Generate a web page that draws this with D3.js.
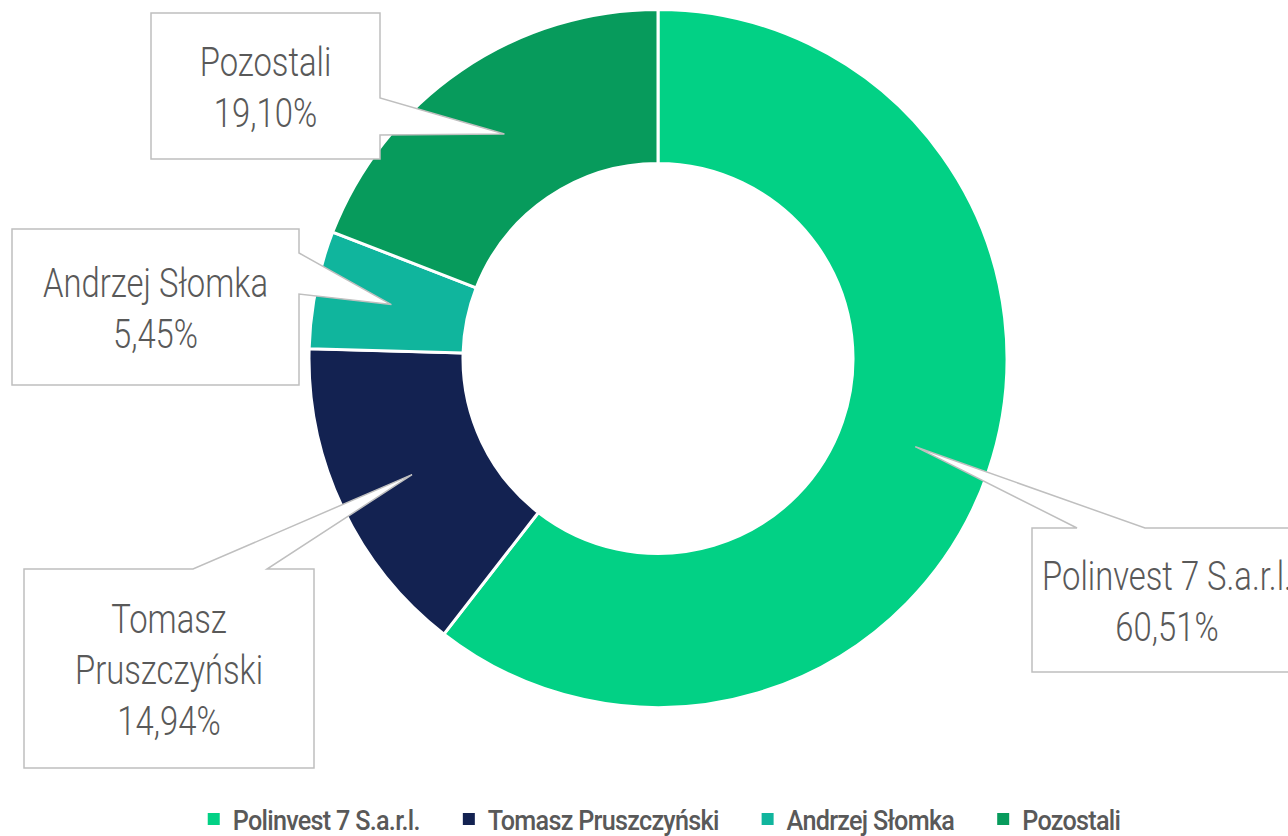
<!DOCTYPE html>
<html>
<head>
<meta charset="utf-8">
<script src="https://cdn.jsdelivr.net/npm/d3@7/dist/d3.min.js"></script>
<style>
  html, body { margin: 0; padding: 0; background: #fff; }
  svg { display: block; }
  text { font-family: Roboto, "Liberation Sans", sans-serif; }
</style>
</head>
<body>
<div id="main"></div>
<script>
// dane wykresu
const categories = ["Polinvest 7 S.a.r.l.", "Tomasz Pruszczyński", "Andrzej Słomka", "Pozostali"];
const shares = [60.51, 14.94, 5.45, 19.10];
const shareLabels = ["60,51%", "14,94%", "5,45%", "19,10%"];
const colors = ["#02D185", "#132251", "#10B59D", "#079B5C"];

const ctx = {
  W: 1288,
  H: 836,
  cx: 658,
  cy: 358.5,
  outerR: 349,
  innerR: 195,
  lineH: 51,
  labelSqueeze: 0.8,   // font is condensed in the original
  legendSqueeze: 0.9,
};

// ramki etykiet (położenie na rysunku)
const callouts = [
  { x: 1032, y: 528, w: 270, h: 144, side: "top",   a: 1077, b: 1145, wrap: false },
  { x: 24,   y: 569, w: 290, h: 199, side: "top",   a: 193,  b: 267,  wrap: true },
  { x: 12,   y: 229, w: 287, h: 156, side: "right", a: 253,  b: 294,  wrap: false },
  { x: 151,  y: 13,  w: 229, h: 146, side: "right", a: 98,   b: 135,  wrap: false },
];

function calloutPath(c, tip) {
  const x0 = c.x, y0 = c.y, x1 = c.x + c.w, y1 = c.y + c.h;
  let pts;
  if (c.side === "top") {
    pts = [[x0, y0], [c.a, y0], tip, [c.b, y0], [x1, y0], [x1, y1], [x0, y1]];
  } else {
    pts = [[x0, y0], [x1, y0], [x1, c.a], tip, [x1, c.b], [x1, y1], [x0, y1]];
  }
  return "M" + pts.map(p => p.join(",")).join("L") + "Z";
}

function createViz() {
  const svg = d3.select("#main").append("svg")
      .attr("width", ctx.W)
      .attr("height", ctx.H);

  const data = categories.map((c, i) => ({ name: c, value: shares[i], label: shareLabels[i], color: colors[i] }));

  const pie = d3.pie().value(d => d.value).sort(null);
  const arc = d3.arc().innerRadius(ctx.innerR).outerRadius(ctx.outerR);
  const arcs = pie(data);

  const donut = svg.append("g").attr("transform", `translate(${ctx.cx},${ctx.cy})`);
  donut.selectAll("path")
    .data(arcs)
    .enter()
    .append("path")
    .attr("d", arc)
    .style("fill", d => d.data.color)
    .style("stroke", "#fff")
    .style("stroke-width", 3);

  // etykiety z dymkami
  const labels = svg.append("g");
  arcs.forEach((d, i) => {
    const c = callouts[i];
    const cen = arc.centroid(d);
    const tip = [ctx.cx + cen[0], ctx.cy + cen[1]];
    labels.append("path")
      .attr("d", calloutPath(c, tip))
      .style("fill", "#fff")
      .style("stroke", "#BFBFBF")
      .style("stroke-width", 1.5);

    const lines = (c.wrap ? d.data.name.split(" ") : [d.data.name]).concat([d.data.label]);
    const midY = c.y + c.h / 2;
    const n = lines.length;
    labels.selectAll(null)
      .data(lines)
      .enter()
      .append("text")
      .attr("transform", (t, k) =>
        `translate(${c.x + c.w / 2},${midY + (k - (n - 1) / 2) * ctx.lineH + 15}) scale(${ctx.labelSqueeze},1)`)
      .attr("text-anchor", "middle")
      .style("font-size", "41px")
      .style("font-weight", 300)
      .style("fill", "#595959")
      .text(t => t);
  });

  // legenda
  const legend = svg.append("g");
  const items = legend.selectAll("g")
    .data(data)
    .enter()
    .append("g");
  items.append("rect")
    .attr("width", 12)
    .attr("height", 12)
    .attr("y", 813)
    .style("fill", d => d.color);
  items.append("text")
    .attr("transform", `translate(25,830) scale(${ctx.legendSqueeze},1)`)
    .style("font-size", "28px")
    .style("font-weight", 500)
    .style("letter-spacing", "-0.8px")
    .style("fill", "#595959")
    .text(d => d.name);

  const widths = [];
  items.select("text").each(function() { widths.push(this.getComputedTextLength() * ctx.legendSqueeze + 25); });
  const gap = 43;
  const total = d3.sum(widths) + gap * (widths.length - 1);
  let xPos = 664 - total / 2;
  items.attr("transform", (d, i) => {
    const t = `translate(${xPos},0)`;
    xPos += widths[i] + gap;
    return t;
  });
}

createViz();
</script>
</body>
</html>
